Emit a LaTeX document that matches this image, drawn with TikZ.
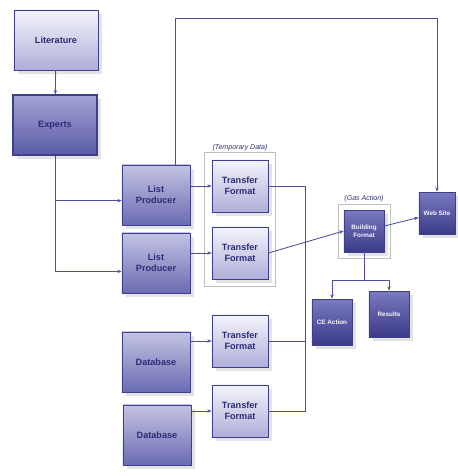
\documentclass[tikz,border=0pt]{standalone}
\usepackage{fontspec}
\setmainfont{Liberation Sans}
\usetikzlibrary{shadows,arrows.meta,fit}

\definecolor{boxline}{HTML}{3E3E8E}
\definecolor{boxtext}{HTML}{2C2C78}
\definecolor{linecol}{HTML}{4E4EA0}
\definecolor{paletop}{HTML}{F4F4FC}
\definecolor{palebot}{HTML}{AEAED8}
\definecolor{midtop}{HTML}{C4C4E4}
\definecolor{midbot}{HTML}{6A6AB2}
\definecolor{exptop}{HTML}{A4A4D6}
\definecolor{expbot}{HTML}{5A5AA6}
\definecolor{deeptop}{HTML}{7A7AC0}
\definecolor{deepbot}{HTML}{3A3A88}

\begin{document}
\begin{tikzpicture}[x=0.025cm, y=-0.025cm,
    box/.style={draw=boxline, line width=0.6pt, text=boxtext, align=center,
        font=\fontsize{6.5}{7.5}\selectfont\bfseries, inner sep=1pt,
        drop shadow={shadow xshift=2.5pt, shadow yshift=-2.5pt, fill=black!22}},
    palebox/.style={box, top color=paletop, bottom color=palebot},
    midbox/.style={box, top color=midtop, bottom color=midbot},
    expbox/.style={box, top color=exptop, bottom color=expbot, line width=0.9pt},
    deepbox/.style={box, top color=deeptop, bottom color=deepbot,
        text=paletop, font=\fontsize{4.5}{5.5}\selectfont\bfseries},
    bigsize/.style={minimum width=2.1cm, minimum height=1.5cm},
    prodsize/.style={minimum width=1.7cm, minimum height=1.5cm},
    tfsize/.style={minimum width=1.4cm, minimum height=1.3cm},
    tinysize/.style={minimum width=1.0cm, minimum height=1.05cm},
    arrow/.style={-{Stealth[length=3pt,width=2.5pt]}, draw=linecol, line width=0.6pt},
    line/.style={draw=linecol, line width=0.6pt},
    group/.style={draw=black!25, line width=0.4pt, inner sep=5pt},
    grouplabel/.style={text=boxtext, font=\fontsize{5}{6}\selectfont\itshape, inner sep=1pt}
]

    % page frame of the reference
    \useasboundingbox (0,0) rectangle (458,476);

    % sources on the left
    \node[palebox, bigsize] (lit) at (56,40) {Literature};
    \node[expbox, bigsize] (exp) at (55,125) {Experts};

    \node[midbox, prodsize] (lp1) at (156,195) {List\\Producer};
    \node[midbox, prodsize] (lp2) at (156,263) {List\\Producer};
    \node[midbox, prodsize] (db1) at (156,362) {Database};
    \node[midbox, prodsize] (db2) at (157,435) {Database};

    % transfer formats
    \node[palebox, tfsize] (tf1) at (240,186) {Transfer\\Format};
    \node[palebox, tfsize] (tf2) at (240,253) {Transfer\\Format};
    \node[palebox, tfsize] (tf3) at (240,341) {Transfer\\Format};
    \node[palebox, tfsize] (tf4) at (240,411) {Transfer\\Format};

    % right hand side
    \node[deepbox, tinysize] (bf) at (364,231) {Building\\Format};
    \node[deepbox, tinysize, minimum width=0.9cm] (web) at (437,213) {Web Site};
    \node[deepbox, tinysize, minimum height=1.15cm] (ce) at (332,322) {CE Action};
    \node[deepbox, tinysize, minimum height=1.15cm] (res) at (389,314) {Results};

    % groups
    \node[group, fit=(tf1)(tf2)] (tmpgrp) {};
    \node[grouplabel, anchor=south] (tmplbl) at (tmpgrp.north) {(Temporary Data)};
    \node[group, fit=(bf), inner sep=4pt] (gasgrp) {};
    \node[grouplabel, anchor=south] (gaslbl) at (gasgrp.north) {(Gas Action)};

    % helper points
    \coordinate (toprow) at (175,18);
    \coordinate (bus) at (305,0);
    \coordinate (split) at (364,280);

    % literature to experts, experts to producers
    \draw[arrow] (lit) -- (exp);
    \draw[arrow] (exp.south) |- ([yshift=-6pt]lp2.west);
    \draw[arrow] (exp.south) |- ([yshift=-4pt]lp1.west);

    % producer straight to the web site
    \draw[arrow] (toprow |- lp1.north) -- (toprow) -| (web.north);

    % into the transfer formats
    \draw[arrow] (tf1.west -| lp1.east) -- (tf1.west);
    \draw[arrow] (tf2.west -| lp2.east) -- (tf2.west);
    \draw[arrow] (tf3.west -| db1.east) -- (tf3.west);
    \draw[arrow] (tf4.west -| db2.east) -- (tf4.west);

    % collecting bus
    \draw[line] (tf1.east) -- (bus |- tf1.east) -- (bus |- tf4.east) -- (tf4.east);
    \draw[line] (tf3.east) -- (bus |- tf3.east);
    \draw[arrow] (tf2.east) -- (bf.west);

    % out of the building format
    \draw[arrow] (bf) -- (web);
    \draw[line] (bf.south) -- (split);
    \draw[arrow] (split) -| (ce.north);
    \draw[arrow] (split) -| (res.north);

\end{tikzpicture}
\end{document}
